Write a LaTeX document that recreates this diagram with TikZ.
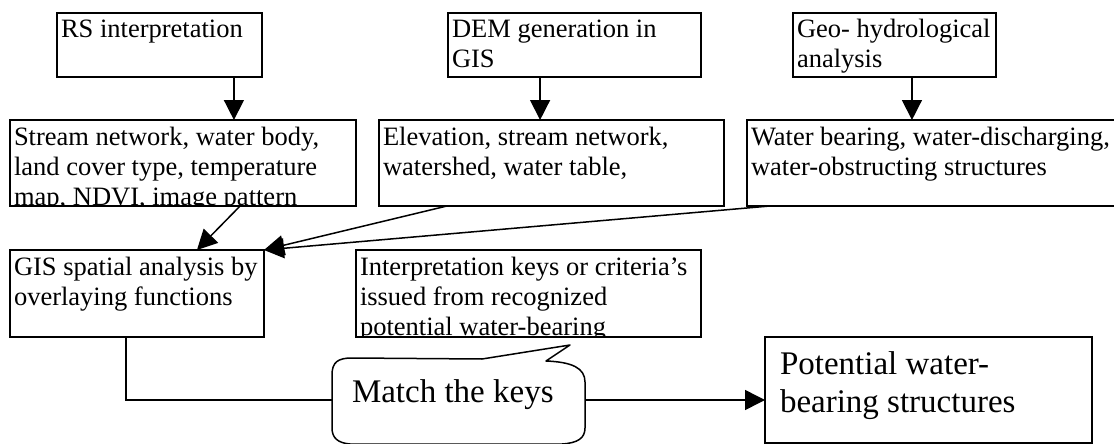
\documentclass[tikz,border=0pt]{standalone}
\usepackage{fontspec}
\setmainfont{Liberation Serif}
\usetikzlibrary{arrows.meta,calc}
\tikzset{
  box/.style={draw, line width=1.5pt, rectangle, anchor=north west, inner sep=0pt, outer sep=0pt},
  txt/.style={anchor=north west, inner sep=0pt, outer sep=0pt, align=left, font=\fontsize{26.5}{30}\selectfont},
  bigtxt/.style={inner sep=0pt, outer sep=0pt, align=left, font=\fontsize{33}{38}\selectfont},
  arr/.style={line width=1.5pt, -{Triangle[length=20pt,width=20pt]}},
  conn/.style={line width=1.5pt},
  callout/.style={line width=1.5pt, line join=round}
}
\begin{document}
\begin{tikzpicture}[x=1pt,y=-1pt]
\useasboundingbox (0,0) rectangle (1114,444);
\clip (0,0) rectangle (1114,444);

% boxes
\node[box, minimum width=205pt, minimum height=64pt] (rs) at (57,13) {};
\node[box, minimum width=253pt, minimum height=64pt] (dem) at (448,13) {};
\node[box, minimum width=203pt, minimum height=64pt] (geo) at (793,13) {};
\node[box, minimum width=346pt, minimum height=86pt] (stream) at (10,120) {};
\node[box, minimum width=345pt, minimum height=86pt] (elev) at (379,120) {};
\node[box, minimum width=383pt, minimum height=86pt] (water) at (747,120) {};
\node[box, minimum width=254pt, minimum height=87pt] (gis) at (10,250) {};
\node[box, minimum width=345pt, minimum height=87pt] (interp) at (356,250) {};
\node[box, minimum width=327pt, minimum height=106pt] (pot) at (765,337) {};

% texts
\node[txt] (rs-t) at ($(rs.north west)+(4,4)$) {\strut RS interpretation};
\node[txt] (dem-t) at ($(dem.north west)+(4,4)$) {\strut DEM generation in\\GIS};
\node[txt] (geo-t) at ($(geo.north west)+(4,4)$) {\strut Geo- hydrological\\analysis};
\begin{scope}
  \clip (stream.north west) rectangle (stream.south east);
  \node[txt] (stream-t) at ($(stream.north west)+(4,4)$) {\strut Stream network, water body,\\land cover type, temperature\\map, NDVI, image pattern};
\end{scope}
\node[txt] (elev-t) at ($(elev.north west)+(4,4)$) {\strut Elevation, stream network,\\watershed, water table,};
\node[txt] (water-t) at ($(water.north west)+(4,4)$) {\strut Water bearing, water-discharging,\\water-obstructing structures};
\node[txt] (gis-t) at ($(gis.north west)+(4,4)$) {\strut GIS spatial analysis by\\overlaying functions};
\begin{scope}
  \clip (interp.north west) rectangle (interp.south east);
  \node[txt] (interp-t) at ($(interp.north west)+(4,4)$) {\strut Interpretation keys or criteria’s\\issued from recognized\\potential water-bearing};
\end{scope}
\node[bigtxt, anchor=north west] (pot-t) at ($(pot.north west)+(15,11)$) {\strut Potential water-\\bearing structures};

% callout
\draw[callout] (332,375) .. controls (332,362) and (338,358) .. (352,358)
  -- (482,359) -- (570,345) -- (546,361)
  .. controls (572,362) and (585,368) .. (585,382)
  -- (585,428) .. controls (585,438) and (578,443) .. (562,444)
  -- (350,444) .. controls (338,443) and (332,438) .. (332,428) -- cycle;
\node[bigtxt, anchor=base west] (match) at (352,402) {Match the keys};
\coordinate (mL) at (332,400);
\coordinate (mR) at (585,400);

% connectors
\coordinate (a1) at ($(rs.south west)!0.863!(rs.south east)$);
\draw[arr] (a1) -- (a1 |- stream.north);
\coordinate (a2) at ($(dem.south west)!0.364!(dem.south east)$);
\draw[arr] (a2) -- (a2 |- elev.north);
\coordinate (a3) at ($(geo.south west)!0.586!(geo.south east)$);
\draw[arr] (a3) -- (a3 |- water.north);

\draw[arr] ($(stream.south west)!0.665!(stream.south east)$) -- ($(gis.north west)!0.736!(gis.north east)$);
\draw[arr] ($(elev.south west)!0.197!(elev.south east)$) -- (gis.north east);
\draw[arr] ($(water.south west)!0.06!(water.south east)$) -- (gis.north east);

\coordinate (g1) at ($(gis.south west)!0.457!(gis.south east)$);
\draw[conn] (g1) |- (mL);
\draw[arr] (mR) -- (mR -| pot.west);
\end{tikzpicture}
\end{document}
